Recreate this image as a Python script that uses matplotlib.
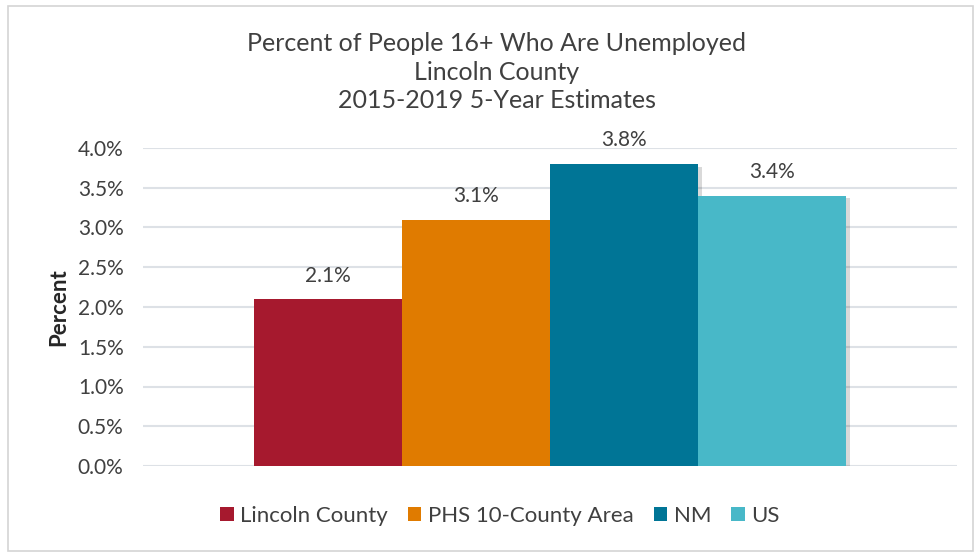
import matplotlib
matplotlib.use("Agg")
import matplotlib.pyplot as plt
from matplotlib.patches import Rectangle, Patch
import matplotlib.patheffects as pe

categories = ["Lincoln County", "PHS 10-County Area", "NM", "US"]
values = [0.021, 0.031, 0.038, 0.034]
colors = ["#A6192E", "#E07B00", "#007596", "#48B8C8"]
yticks = [0.0, 0.005, 0.010, 0.015, 0.020, 0.025, 0.030, 0.035, 0.040]
title_lines = ["Percent of People 16+ Who Are Unemployed", "Lincoln County", "2015-2019 5-Year Estimates"]

plt.rcParams['font.family'] = ['Lato', 'DejaVu Sans']

fig = plt.figure(figsize=(9.77, 5.54), dpi=100)
fig.patches.append(Rectangle((8/977, 3/554), 1 - 12/977, 1 - 9/554, transform=fig.transFigure,
                             fill=False, edgecolor="#D4D4D4", linewidth=1.2))
ax = fig.add_axes([143/977, 1 - 466/554, (957 - 143)/977, (466 - 148)/554])

xs = list(range(len(categories)))
for x, v, c, lab in zip(xs, values, colors, categories):
    ax.bar(x, v, width=1.0, color=c, zorder=3,
           path_effects=[pe.SimplePatchShadow(offset=(3, -2), shadow_rgbFace="#000000", alpha=0.15),
                         pe.Normal()])
    ax.text(x, v + 0.0017, f"{v*100:.1f}%", ha="center", va="bottom", fontsize=15, color="#404040")

ax.set_xlim(-1.25, 4.25)
ax.set_ylim(0, 0.04)
ax.set_yticks(yticks)
ax.set_yticklabels([f"{t*100:.1f}%" for t in yticks], fontsize=15, color="#404040")
ax.set_xticks([])
ax.tick_params(axis="y", length=0, pad=14)
for s in ax.spines.values():
    s.set_visible(False)
ax.grid(axis="y", color="#DDE1E6", linewidth=1.5, zorder=0)
ax.set_axisbelow(True)
ax.set_ylabel("Percent", fontsize=16, fontweight="bold", color="#262626", labelpad=6)

fig.text(497/977, 1 - 72/554, "\n".join(title_lines), ha="center", va="center",
         fontsize=18, color="#404040", linespacing=1.3)

handles = [Patch(facecolor=c, edgecolor="none", label=l) for c, l in zip(colors, categories)]
leg = fig.legend(handles=handles, loc="center", bbox_to_anchor=(500/977, 1 - 516/554), ncol=4, frameon=False,
                 fontsize=16, handlelength=0.6, handleheight=0.6, handletextpad=0.3,
                 columnspacing=0.9, labelcolor="#404040")

fig.savefig("out.png", dpi=100)
